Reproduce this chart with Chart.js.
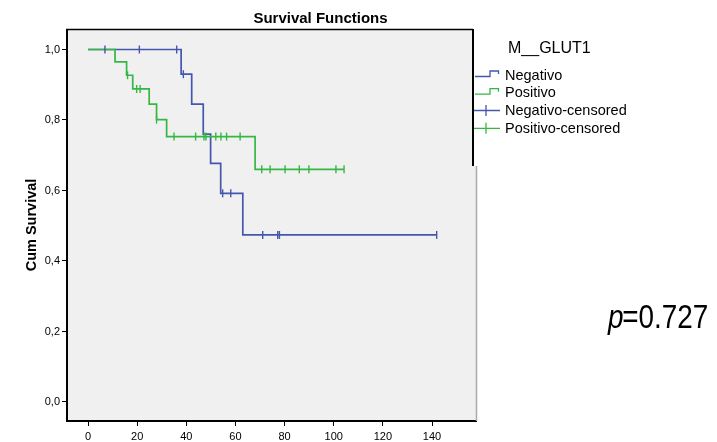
<!DOCTYPE html>
<html>
<head>
<meta charset="utf-8">
<script src="https://cdn.jsdelivr.net/npm/chart.js@4.4.1/dist/chart.umd.min.js"></script>
<style>
html,body{margin:0;padding:0;background:#fff;}
#wrap{width:717px;height:442px;position:relative;}
</style>
</head>
<body>
<div id="wrap"><canvas id="c" width="717" height="442"></canvas></div>
<script>
// ---- data ----
const chartTitle = "Survival Functions";
const yAxisTitle = "Cum Survival";
const legendTitle = "M__GLUT1";
const seriesNames = ["Negativo", "Positivo", "Negativo-censored", "Positivo-censored"];
const pValueLabel = "0.727";

const xTickValues = [0, 20, 40, 60, 80, 100, 120, 140];
const yTickValues = [0.0, 0.2, 0.4, 0.6, 0.8, 1.0];

// Kaplan-Meier step points (time, survival)
const negTimes = [0, 37.9, 42.2, 46.9, 49.9, 54.0, 63.0, 142.0];
const negSurv  = [1.0, 0.930, 0.845, 0.760, 0.677, 0.592, 0.474, 0.474];
const posTimes = [0, 11.0, 15.7, 18.2, 24.9, 27.9, 32.0, 68.0, 104.2];
const posSurv  = [1.0, 0.965, 0.927, 0.888, 0.845, 0.801, 0.753, 0.660, 0.660];

// censored observations
const negCensTimes = [6.9, 20.9, 36.1, 38.8, 54.8, 58.1, 71.1, 77.2, 77.9, 141.9];
const negCensSurv  = [1.0, 1.0, 1.0, 0.930, 0.592, 0.592, 0.474, 0.474, 0.474, 0.474];
const posCensTimes = [16.1, 19.8, 21.2, 27.9, 35.0, 43.8, 47.2, 48.0, 52.0, 54.1, 56.4, 61.9, 70.7, 74.1, 80.2, 86.0, 89.9, 100.9, 104.2];
const posCensSurv  = [0.927, 0.888, 0.888, 0.801, 0.753, 0.753, 0.753, 0.753, 0.753, 0.753, 0.753, 0.753, 0.660, 0.660, 0.660, 0.660, 0.660, 0.660, 0.660];

// ---- styles ----
const BLUE = '#4457ad';
const GREEN = '#34b843';
const FONT = "'Liberation Sans', Arial, sans-serif";

function pts(xs, ys){ return xs.map((x,i)=>({x:x, y:ys[i]})); }

const framePlugin = {
  id: 'frame',
  beforeDraw(chart){
    const {ctx, chartArea:a} = chart;
    ctx.save();
    ctx.fillStyle = '#f0f0f0';
    ctx.fillRect(a.left, a.top, a.right - a.left, a.bottom - a.top);
    ctx.restore();
  },
  afterDraw(chart){
    const {ctx, chartArea:a} = chart;
    ctx.save();
    // white legend block overlapping the plot's upper-right edge
    const legBottom = 166;
    ctx.fillStyle = '#ffffff';
    ctx.fillRect(a.right - 3, a.top - 1, 10, legBottom - a.top + 1);
    // frame
    ctx.strokeStyle = '#000';
    ctx.lineWidth = 2;
    ctx.beginPath();
    ctx.moveTo(a.left - 1, a.top - 1); ctx.lineTo(a.left - 1, a.bottom + 1);
    ctx.moveTo(a.left - 2, a.bottom); ctx.lineTo(a.right + 1, a.bottom);
    ctx.stroke();
    ctx.lineWidth = 1.5;
    ctx.beginPath();
    ctx.moveTo(a.left - 2, a.top - 0.5); ctx.lineTo(a.right - 3, a.top - 0.5);
    ctx.stroke();
    ctx.lineWidth = 2;
    ctx.beginPath();
    ctx.moveTo(a.right - 3, a.top - 1); ctx.lineTo(a.right - 3, legBottom);
    ctx.stroke();
    ctx.strokeStyle = '#a8a8a8';
    ctx.lineWidth = 1.5;
    ctx.beginPath();
    ctx.moveTo(a.right + 0.5, legBottom); ctx.lineTo(a.right + 0.5, a.bottom);
    ctx.stroke();

    // title
    ctx.fillStyle = '#000';
    ctx.font = "bold 15px " + FONT;
    ctx.textAlign = 'center';
    ctx.textBaseline = 'alphabetic';
    ctx.fillText(chartTitle, 320.5, 23);

    // y title
    ctx.save();
    ctx.translate(32, 225);
    ctx.rotate(-Math.PI/2);
    ctx.font = "bold 14.5px " + FONT;
    ctx.textAlign = 'center';
    ctx.textBaseline = 'middle';
    ctx.fillText(yAxisTitle, 0, 0);
    ctx.restore();

    // legend
    ctx.font = "16px " + FONT;
    ctx.textAlign = 'left';
    ctx.textBaseline = 'alphabetic';
    ctx.fillText(legendTitle, 508, 53);
    const rows = [75, 92.7, 110.5, 128.3];
    const cols = [BLUE, GREEN, BLUE, GREEN];
    ctx.font = "14.5px " + FONT;
    ctx.textBaseline = 'middle';
    for (let i = 0; i < 4; i++) {
      const y = rows[i];
      ctx.strokeStyle = cols[i];
      ctx.lineWidth = 1.3;
      ctx.beginPath();
      if (i < 2) {
        ctx.moveTo(475, y + 1.5); ctx.lineTo(490, y + 1.5);
        ctx.lineTo(490, y - 4); ctx.lineTo(498.5, y - 4); ctx.lineTo(498.5, y - 1);
      } else {
        ctx.moveTo(474, y); ctx.lineTo(500, y);
        ctx.moveTo(486, y - 5.5); ctx.lineTo(486, y + 5.5);
      }
      ctx.stroke();
      ctx.fillStyle = '#000';
      ctx.fillText(seriesNames[i], 505, y + 0.5);
    }

    // p value
    let narrow = "'Liberation Sans Narrow', 'Arial Narrow'";
    ctx.font = "30px monospace";
    const w1 = ctx.measureText("=0.727p").width;
    ctx.font = "30px " + narrow + ", monospace";
    const w2 = ctx.measureText("=0.727p").width;
    const hasNarrow = Math.abs(w1 - w2) > 0.5;
    ctx.save();
    ctx.translate(608, 328);
    let fam = hasNarrow ? narrow + ", sans-serif" : FONT;
    if (!hasNarrow) ctx.scale(0.82, 1);
    ctx.textBaseline = 'alphabetic';
    ctx.textAlign = 'left';
    ctx.fillStyle = '#000';
    ctx.font = "italic 34px " + fam;
    ctx.fillText("p", 0, 0);
    const pw = ctx.measureText("p").width;
    ctx.font = "34px " + fam;
    ctx.fillText("=" + pValueLabel, pw - 1.5, 0);
    ctx.restore();

    ctx.restore();
  }
};

new Chart(document.getElementById('c'), {
  type: 'line',
  data: {
    datasets: [
      { label: seriesNames[0], data: pts(negTimes, negSurv), borderColor: BLUE, borderWidth: 1.7, stepped: 'before', pointRadius: 0, fill: false, order: 2 },
      { label: seriesNames[1], data: pts(posTimes, posSurv), borderColor: GREEN, borderWidth: 1.7, stepped: 'before', pointRadius: 0, fill: false, order: 1 },
      { label: seriesNames[2], data: pts(negCensTimes, negCensSurv), showLine: false, pointStyle: 'line', rotation: 90, pointRadius: 4, pointBorderWidth: 1.4, borderColor: BLUE, pointBorderColor: BLUE, order: 0 },
      { label: seriesNames[3], data: pts(posCensTimes, posCensSurv), showLine: false, pointStyle: 'line', rotation: 90, pointRadius: 4, pointBorderWidth: 1.4, borderColor: GREEN, pointBorderColor: GREEN, order: 0 }
    ]
  },
  options: {
    responsive: false,
    animation: false,
    layout: { padding: { left: 0, top: 30, right: 241, bottom: 0 } },
    plugins: { legend: { display: false }, title: { display: false }, tooltip: { enabled: false } },
    scales: {
      x: {
        type: 'linear',
        min: -8.14, max: 157.9,
        afterBuildTicks: s => { s.ticks = xTickValues.map(v => ({value: v})); },
        afterFit: s => { s.height = 21; },
        grid: { drawOnChartArea: false, drawTicks: true, tickLength: 5, color: '#000', lineWidth: 1 },
        border: { display: false },
        ticks: { font: { family: FONT, size: 11 }, color: '#000', padding: 4, maxRotation: 0, autoSkip: false }
      },
      y: {
        type: 'linear',
        min: -0.0539, max: 1.0553,
        afterBuildTicks: s => { s.ticks = yTickValues.map(v => ({value: v})); },
        afterFit: s => { s.width = 68; },
        grid: { drawOnChartArea: false, drawTicks: true, tickLength: 6, color: '#000', lineWidth: 1 },
        border: { display: false },
        ticks: { font: { family: FONT, size: 11 }, color: '#000', padding: 2, autoSkip: false,
                 callback: v => v.toFixed(1).replace('.', ',') }
      }
    }
  },
  plugins: [framePlugin]
});
</script>
</body>
</html>
